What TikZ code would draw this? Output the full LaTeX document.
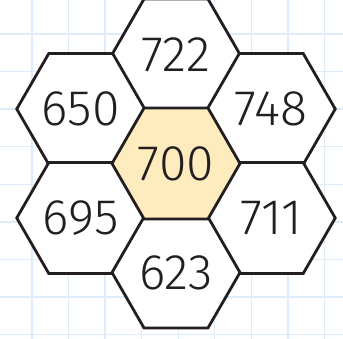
\documentclass[tikz,border=0pt]{standalone}
\usepackage{fontspec}
\setmainfont{Fira Sans}[UprightFont=* Light]
\usepackage{xcolor}
\usepackage{tikz}
\usetikzlibrary{shapes.geometric}

\definecolor{gridblue}{RGB}{222,236,249}
\definecolor{hexline}{RGB}{35,31,32}
\definecolor{hexfill}{RGB}{254,236,190}

\begin{document}
\begin{tikzpicture}[
  x=1pt, y=-1pt,
  hexcell/.style={regular polygon, regular polygon sides=6, draw=hexline,
    line width=2.8pt, fill=white, inner sep=0pt, minimum size=128pt,
    font=\fontsize{50}{50}\selectfont, text=hexline},
  gridline/.style={gridblue, line width=1.4pt}
]
  \useasboundingbox (0,0) rectangle (343,339);
  \fill[white] (0,0) rectangle (343,339);

  % background grid
  \foreach \k in {0,...,8} {
    \draw[gridline] ({32+36.55*\k},0) -- ({32+36.55*\k},339);
    \draw[gridline] (0,{34+37.6*\k}) -- (343,{34+37.6*\k});
  }

  \node[hexcell] (top)   at (176,54.5)    {722};
  \node[hexcell] (upl)   at (80.75,109)   {650};
  \node[hexcell] (upr)   at (271.25,109)  {748};
  \node[hexcell] (lowl)  at (80.75,218)   {695};
  \node[hexcell] (lowr)  at (271.25,218)  {711};
  \node[hexcell] (bot)   at (176,272.5)   {623};
  \node[hexcell, fill=hexfill] (mid) at (176,163.5) {700};
\end{tikzpicture}
\end{document}
